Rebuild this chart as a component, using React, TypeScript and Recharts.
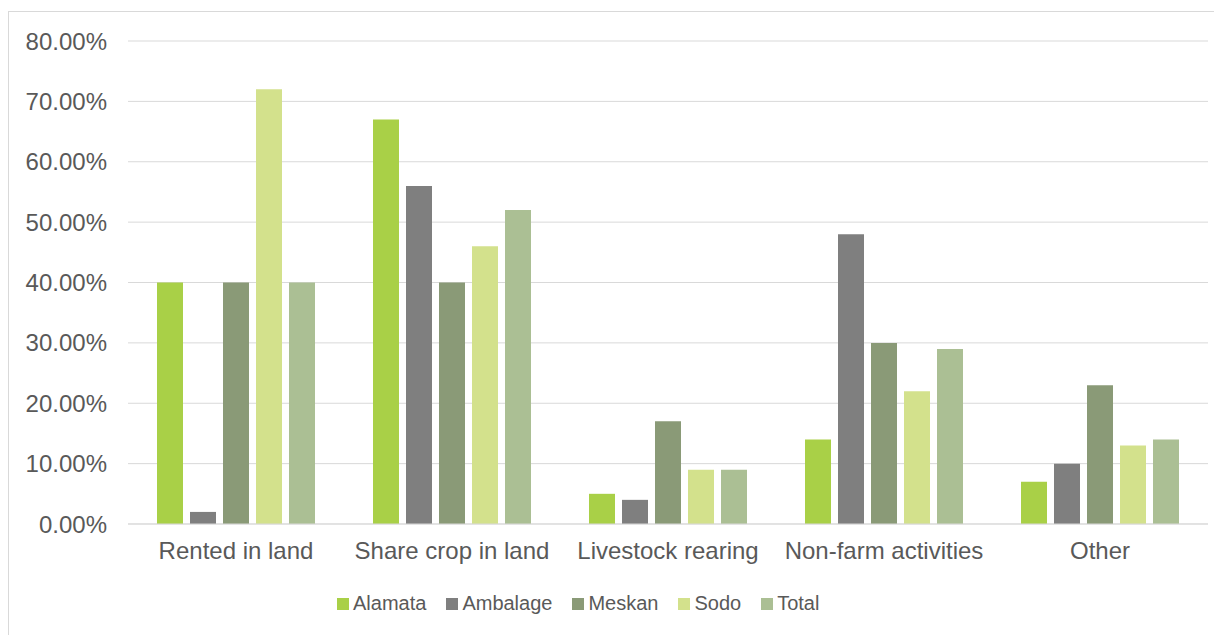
import { BarChart, Bar, XAxis, YAxis, CartesianGrid, Legend } from 'recharts';

const categories = ['Rented in land', 'Share crop in land', 'Livestock rearing', 'Non-farm activities', 'Other'];
const alamata = [40, 67, 5, 14, 7];
const ambalage = [2, 56, 4, 48, 10];
const meskan = [40, 40, 17, 30, 23];
const sodo = [72, 46, 9, 22, 13];
const total = [40, 52, 9, 29, 14];
const yTicks = [0, 10, 20, 30, 40, 50, 60, 70, 80];

const series = [
  { key: 'Alamata', values: alamata, color: '#a9d047' },
  { key: 'Ambalage', values: ambalage, color: '#7f7f7f' },
  { key: 'Meskan', values: meskan, color: '#8a9a77' },
  { key: 'Sodo', values: sodo, color: '#d3e18c' },
  { key: 'Total', values: total, color: '#abbf94' },
];

const data = categories.map((name, i) => {
  const row: any = { name };
  series.forEach((s) => (row[s.key] = s.values[i]));
  return row;
});

const textColor = '#595959';
const font = '"Liberation Sans", Arial, sans-serif';

function LegendContent() {
  return (
    <div style={{ display: 'flex', paddingLeft: 328, fontFamily: font, fontSize: 20, color: textColor }}>
      {series.map((s) => (
        <div key={s.key} style={{ display: 'flex', alignItems: 'center', marginRight: 20 }}>
          <span style={{ width: 12, height: 12, background: s.color, marginRight: 4, display: 'inline-block' }} />
          <span>{s.key}</span>
        </div>
      ))}
    </div>
  );
}

export default function App() {
  return (
    <div style={{ marginTop: 3, width: 1220, height: 630, border: '1px solid #d9d9d9', borderRight: 'none', borderBottom: 'none', background: '#fff' }}>
      <BarChart
        width={1214}
        height={623}
        data={data}
        barSize={26}
        barGap={7}
        margin={{ top: 29, right: 15, left: 0, bottom: 58 }}
      >
        <CartesianGrid vertical={false} stroke="#d9d9d9" />
        <XAxis
          dataKey="name"
          axisLine={{ stroke: '#d9d9d9' }}
          tickLine={false}
          tickSize={0}
          tickMargin={18}
          tick={{ fill: textColor, fontSize: 24, fontFamily: font }}
        />
        <YAxis
          domain={[0, 80]}
          ticks={yTicks}
          width={119}
          axisLine={false}
          tickLine={false}
          tickSize={0}
          tickMargin={21}
          tick={{ fill: textColor, fontSize: 24, fontFamily: font }}
          tickFormatter={(v: number) => `${v.toFixed(2)}%`}
        />
        <Legend verticalAlign="bottom" content={<LegendContent />} wrapperStyle={{ bottom: 20 }} />
        {series.map((s) => (
          <Bar key={s.key} dataKey={s.key} fill={s.color} isAnimationActive={false} />
        ))}
      </BarChart>
    </div>
  );
}
